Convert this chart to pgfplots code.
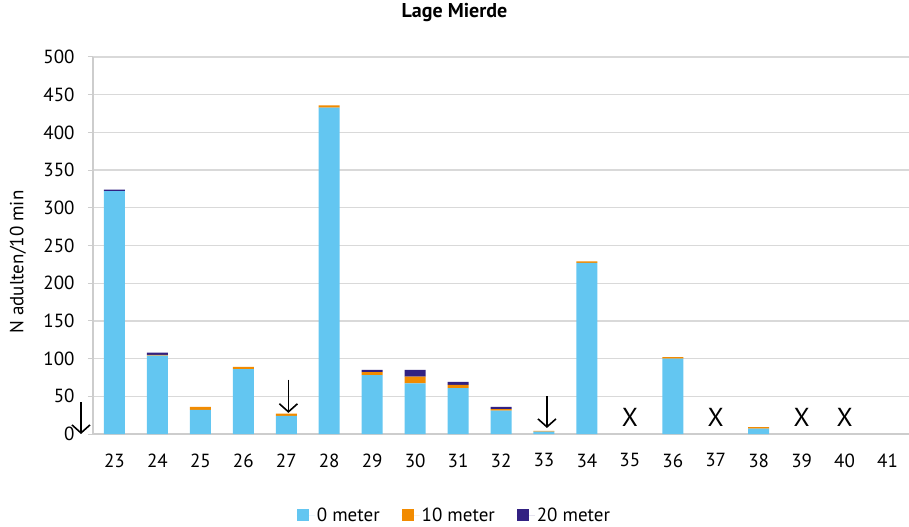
\documentclass[border=0pt]{standalone}
\usepackage{fontspec}
\setmainfont{PT Sans}
\usepackage{pgfplots}
\pgfplotsset{compat=1.18}
\usetikzlibrary{calc,arrows.meta}
\definecolor{c0}{RGB}{99,198,241}
\definecolor{c10}{RGB}{242,139,0}
\definecolor{c20}{RGB}{50,33,130}
\definecolor{gridgray}{RGB}{217,217,217}
\definecolor{axisgray}{RGB}{205,205,205}
\begin{document}
\begin{tikzpicture}
\begin{axis}[
  scale only axis, width=816bp, height=377bp,
  ybar stacked, bar width=21bp,
  xmin=-0.5, xmax=18.5, ymin=0, ymax=500,
  xtick={0,...,18},
  xticklabels={23,24,25,26,27,28,29,30,31,32,33,34,35,36,37,38,39,40,41},
  ytick={0,50,...,500},
  ymajorgrids, grid style={draw=gridgray, line width=1.2bp},
  axis x line=bottom, axis y line=left,
  axis line style={-, draw=axisgray, line width=2bp},
  xtick style={draw=none},
  ytick style={draw=axisgray, line width=1bp},
  tick align=outside, major tick length=5bp,
  font=\fontsize{19bp}{22bp}\selectfont,
  /pgf/number format/assume math mode=true,
  yticklabel style={xshift=-10bp},
  xticklabel style={yshift=-11bp},
  ylabel={N adulten/10 min},
  ylabel style={at={(axis description cs:-0.092,0.456)}, anchor=center},
  title={\bfseries Lage Mierde},
  title style={at={(axis description cs:0.443,1.103)}, anchor=center, font=\fontsize{20bp}{22bp}\selectfont},
  legend columns=3,
  legend style={draw=none, at={(axis description cs:0.443,-0.215)}, anchor=center,
    /tikz/every even column/.append style={column sep=20bp}},
  legend image code/.code={\fill[#1] (0bp,-6bp) rectangle (12bp,6bp); \path (0bp,0bp) -- (18bp,0bp);},
  clip=false,
]
\addplot[fill=c0, draw=none] coordinates {(0,322) (1,104) (2,32) (3,86) (4,24) (5,433) (6,78) (7,67) (8,61) (9,31) (10,3) (11,227) (12,0) (13,100) (14,0) (15,7) (16,0) (17,0) (18,0)};
\addplot[fill=c10, draw=none] coordinates {(0,0) (1,1) (2,4) (3,3) (4,3) (5,3) (6,4) (7,9) (8,4) (9,2) (10,1) (11,2) (12,0) (13,2) (14,0) (15,2) (16,0) (17,0) (18,0)};
\addplot[fill=c20, draw=none] coordinates {(0,2) (1,3) (2,0) (3,0) (4,0) (5,0) (6,3) (7,9) (8,4) (9,3) (10,0) (11,0) (12,0) (13,0) (14,0) (15,0) (16,0) (17,0) (18,0)};
\legend{0 meter,10 meter,20 meter}
\draw[line width=1.6bp, -{Straight Barb[length=8bp,width=18bp]}] (axis cs:-0.78,42) -- (axis cs:-0.78,0);
\draw[line width=1.6bp, -{Straight Barb[length=8bp,width=18bp]}] (axis cs:4.05,72) -- (axis cs:4.05,28);
\draw[line width=1.6bp, -{Straight Barb[length=8bp,width=18bp]}] (axis cs:10.07,50) -- (axis cs:10.07,8);
\node[font=\fontsize{26bp}{26bp}\selectfont] at (axis cs:12,22) {X};
\node[font=\fontsize{26bp}{26bp}\selectfont] at (axis cs:14,22) {X};
\node[font=\fontsize{26bp}{26bp}\selectfont] at (axis cs:16,22) {X};
\node[font=\fontsize{26bp}{26bp}\selectfont] at (axis cs:17,22) {X};
\end{axis}
\pgfresetboundingbox
\path[use as bounding box] ($(current axis.south west)+(-93bp,-93bp)$) rectangle ($(current axis.north east)+(0bp,57bp)$);
\end{tikzpicture}
\end{document}
